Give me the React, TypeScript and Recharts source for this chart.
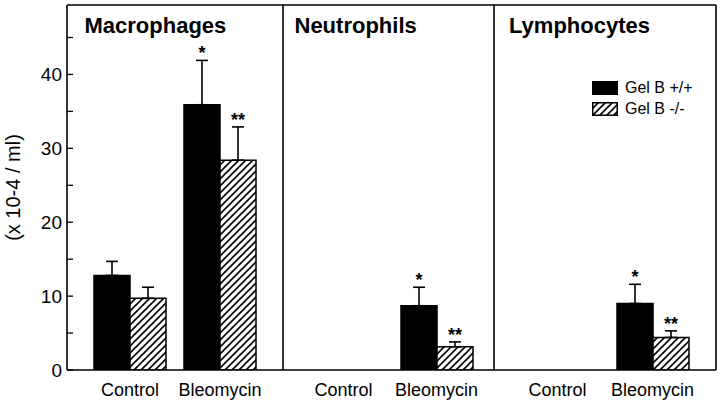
import { BarChart, Bar, XAxis, YAxis, ErrorBar, LabelList, ReferenceLine, Legend, Label } from 'recharts'

// values (x 10^-4 / ml)
const categories = ['Control', 'Bleomycin']
const panelTitles = ['Macrophages', 'Neutrophils', 'Lymphocytes']
const wildType = [[12.8, 35.9], [null, 8.7], [null, 9.0]]
const wildTypeErr = [[1.9, 6.0], [null, 2.5], [null, 2.6]]
const knockout = [[9.7, 28.4], [null, 3.15], [null, 4.4]]
const knockoutErr = [[1.5, 4.5], [null, 0.65], [null, 0.9]]
const wildTypeStars = [['', '*'], ['', '*'], ['', '*']]
const knockoutStars = [['', '**'], ['', '**'], ['', '**']]
const yTicks = [0, 5, 10, 15, 20, 25, 30, 35, 40, 45]
const yMax = 49.4

const FONT = '"Liberation Sans", Arial, Helvetica, sans-serif'

// where each panel sits on the page
const layout = [
  { left: 0, width: 285, yWidth: 67, padL: 18, padR: 18, titleX: 84.5 },
  { left: 273, width: 223, yWidth: 10, padL: 14, padR: 11, titleX: 294.5 },
  { left: 484, width: 235, yWidth: 10, padL: 16, padR: 16, titleX: 509 },
]

// labels for null bars get skipped, so look the category up by its value
const starLabel = (vals: (number | null)[], errs: (number | null)[], stars: string[]) => (props: any) => {
  const { x, y, width, height, value } = props
  if (value == null) return null
  const k = vals.indexOf(Number(value))
  if (k < 0 || !stars[k]) return null
  const perUnit = Number(height) / Number(value)
  const top = Number(y) - (errs[k] ?? 0) * perUnit
  return (
    <text x={Number(x) + Number(width) / 2} y={top - 1} textAnchor="middle" fontSize={18} fontWeight="bold" fill="#000">
      {stars[k]}
    </text>
  )
}

const renderLegend = ({ payload }: any) => (
  <div style={{ fontFamily: FONT, fontSize: 16, color: '#000' }}>
    {(payload || []).map((p: any) => (
      <div key={p.value} style={{ display: 'flex', alignItems: 'center', height: 21 }}>
        <svg width={26} height={14}>
          <rect x={0.75} y={0.75} width={24.5} height={12.5} fill={p.payload?.fill ?? p.color} stroke="#000" strokeWidth={1.5} />
        </svg>
        <span style={{ marginLeft: 7 }}>{p.value}</span>
      </div>
    ))}
  </div>
)

const YTitle = (props: any) => {
  const vb = props.viewBox || {}
  const cx = 13
  const cy = vb.y + vb.height / 2
  return (
    <text x={cx} y={cy} transform={`rotate(-90, ${cx}, ${cy})`} textAnchor="middle" dominantBaseline="central" fontSize={20} fill="#000">
      (x 10-4 / ml)
    </text>
  )
}

function Panel({ i }: { i: number }) {
  const l = layout[i]
  const data = categories.map((name, k) => ({
    name,
    wt: wildType[i][k],
    ko: knockout[i][k],
    wtErr: wildTypeErr[i][k],
    koErr: knockoutErr[i][k],
  }))
  const last = i === layout.length - 1
  return (
    <div style={{ position: 'absolute', left: l.left, top: 0 }}>
      <BarChart width={l.width} height={406} data={data} margin={{ top: 5, right: 2, left: 0, bottom: 0 }} barGap={0} barSize={36}>
        <XAxis
          dataKey="name"
          height={36}
          padding={{ left: l.padL, right: l.padR }}
          tickLine={false}
          tickMargin={7}
          axisLine={{ stroke: '#000', strokeWidth: 1.6 }}
          tick={{ fontSize: 18, fill: '#000' }}
          interval={0}
        />
        <YAxis
          width={l.yWidth}
          domain={[0, yMax]}
          allowDataOverflow
          ticks={yTicks}
          interval={0}
          tickSize={-6}
          tickMargin={11}
          axisLine={{ stroke: '#000', strokeWidth: 1.6 }}
          tickLine={{ stroke: '#000', strokeWidth: 1.3 }}
          tick={i === 0 ? { fontSize: 19, fill: '#000' } : false}
          tickFormatter={(v: number) => (v % 10 === 0 ? String(v) : '')}
        >
          {i === 0 && <Label content={YTitle} />}
        </YAxis>
        {last && (
          <YAxis yAxisId="frame" orientation="right" width={1} domain={[0, yMax]} tick={false} tickLine={false} axisLine={{ stroke: '#000', strokeWidth: 1.6 }} />
        )}
        <ReferenceLine y={yMax} stroke="#000" strokeWidth={1.6} ifOverflow="visible" />
        <Bar dataKey="wt" name="Gel B +/+" fill="#000" stroke="#000" strokeWidth={1.5} isAnimationActive={false}>
          <ErrorBar dataKey={(d: any) => (d.wtErr == null ? undefined : [0, d.wtErr])} width={6} stroke="#000" strokeWidth={1.6} direction="y" />
          <LabelList dataKey="wt" content={starLabel(wildType[i], wildTypeErr[i], wildTypeStars[i])} />
        </Bar>
        <Bar dataKey="ko" name="Gel B -/-" fill="url(#hatch)" stroke="#000" strokeWidth={1.5} isAnimationActive={false}>
          <ErrorBar dataKey={(d: any) => (d.koErr == null ? undefined : [0, d.koErr])} width={6} stroke="#000" strokeWidth={1.6} direction="y" />
          <LabelList dataKey="ko" content={starLabel(knockout[i], knockoutErr[i], knockoutStars[i])} />
        </Bar>
        {last && (
          <Legend
            layout="vertical"
            align="center"
            verticalAlign="middle"
            content={renderLegend}
            wrapperStyle={{ left: 108, top: 77, width: 125 }}
          />
        )}
      </BarChart>
      <div
        style={{
          position: 'absolute',
          left: l.titleX - l.left,
          top: 14.7,
          fontSize: 22,
          lineHeight: '22px',
          fontWeight: 'bold',
          whiteSpace: 'nowrap',
          color: '#000',
        }}
      >
        {panelTitles[i]}
      </div>
    </div>
  )
}

export default function App() {
  return (
    <div style={{ position: 'absolute', left: 0, top: 0, width: 720, height: 406, background: '#fff', fontFamily: FONT }}>
      <svg width={0} height={0} style={{ position: 'absolute' }}>
        <defs>
          <pattern id="hatch" patternUnits="userSpaceOnUse" width={7} height={7}>
            <rect width={7} height={7} fill="#fff" />
            <path d="M-1,1 l2,-2 M0,7 l7,-7 M6,8 l2,-2" stroke="#000" strokeWidth={1.6} />
          </pattern>
        </defs>
      </svg>
      {layout.map((_, i) => (
        <Panel key={i} i={i} />
      ))}
    </div>
  )
}
